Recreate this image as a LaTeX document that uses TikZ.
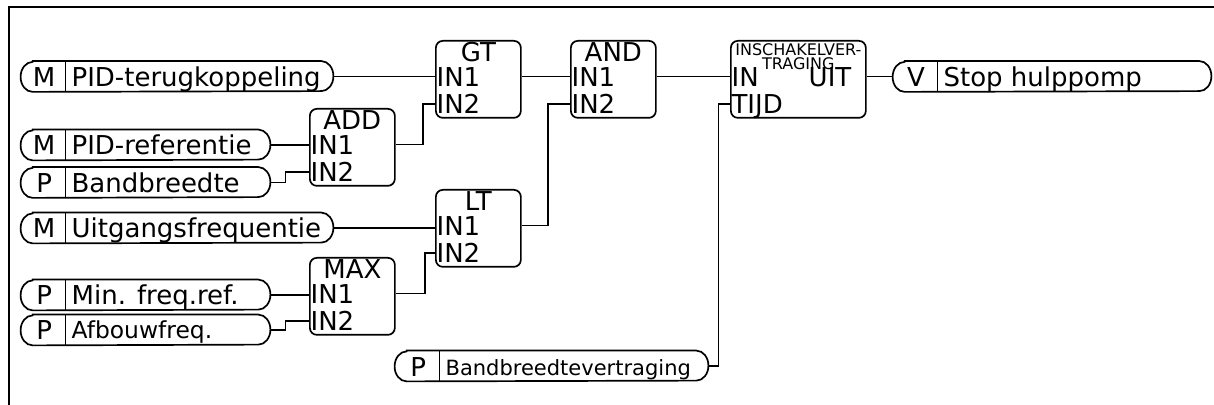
\documentclass[tikz,border=0pt]{standalone}
\usepackage{fontspec}
\setmainfont{DejaVu Sans}
\newcommand\fbig{\fontsize{13}{15}\selectfont}
\newcommand\fmid{\fontsize{11.7}{13}\selectfont}
\newcommand\fsmall{\fontsize{10.5}{12}\selectfont}
\newcommand\ftiny{\fontsize{8}{7}\selectfont}
\tikzset{
  ln/.style={line width=0.85pt},
  wire/.style={line width=0.85pt},
  fb/.style={draw, line width=0.85pt, rounded corners=3.5pt, inner sep=0pt, minimum height=38.5pt},
  pillbox/.style={inner sep=0pt, minimum height=15pt},
  txt/.style={inner sep=0pt, font=\fbig},
}
% pill: name, x1, x2, yc, letter, label, labelfont, label baseline shift
\newcommand\pill[8]{%
  \node[pillbox, minimum width={(#3-#2)*0.5pt}] (#1) at ({(#2+#3)/2},#4) {};
  \draw[ln] ([xshift=6pt]#1.north west) -- ([xshift=-6pt]#1.north east)
     arc[start angle=90,end angle=-90,x radius=6pt,y radius=7.5pt]
     -- ([xshift=6pt]#1.south west)
     arc[start angle=270,end angle=90,x radius=6pt,y radius=7.5pt] -- cycle;
  \draw[ln] ([xshift=22.5pt]#1.north west) -- ([xshift=22.5pt]#1.south west);
  \node[txt, anchor=base] (#1-x) at ([xshift=11.75pt,yshift=-5pt]#1.west) {#5};
  \node[txt, anchor=base west, font=#7] (#1-l) at ([xshift=25.3pt,yshift=#8]#1.west) {#6};
}
% block body: name, x1, x2, y1
\newcommand\fbody[4]{%
  \node[fb, minimum width={(#3-#2)*0.5pt}, anchor=north west] (#1) at (#2,#4) {};
  \coordinate (#1-in1) at ([yshift=-18.25pt]#1.north west);
  \coordinate (#1-in2) at ([yshift=-32pt]#1.north west);
  \coordinate (#1-out) at ([yshift=-18.25pt]#1.north east);
}
% full block: name, x1, x2, y1, title, in1, in2
\newcommand\fblock[7]{%
  \fbody{#1}{#2}{#3}{#4}
  \node[txt, anchor=base] (#1-t) at ([yshift=-11pt]#1.north) {#5};
  \node[txt, anchor=base west] (#1-a) at ([xshift=0.6pt,yshift=-23.25pt]#1.north west) {#6};
  \node[txt, anchor=base west] (#1-b) at ([xshift=0.6pt,yshift=-36.75pt]#1.north west) {#7};
}
\begin{document}
\begin{tikzpicture}[x=0.5pt,y=-0.5pt]
\useasboundingbox (0,0) rectangle (1214,405);
\draw[line width=1pt] (1214,7.5) -- (9,7.5) -- (9,405);

\pill{tk}{21}{333}{76.5}{M}{PID-terugkoppeling}{\fbig}{-5pt}
\pill{ref}{21}{270}{145}{M}{PID-referentie}{\fbig}{-5pt}
\pill{bb}{21}{270}{182.5}{P}{Bandbreedte}{\fbig}{-5pt}
\pill{uf}{21}{333}{228}{M}{Uitgangsfrequentie}{\fbig}{-5pt}
\pill{minf}{21}{270}{295}{P}{Min. freq.ref.}{\fbig}{-5pt}
\pill{afb}{21}{270}{330}{P}{Afbouwfreq.}{\fmid}{-4.2pt}
\pill{bbv}{395}{708}{366}{P}{Bandbreedtevertraging}{\fsmall}{-4.5pt}
\pill{stop}{893}{1211}{76.5}{V}{Stop hulppomp}{\fbig}{-5pt}

\fblock{addb}{309}{394}{108}{ADD}{IN1}{IN2}
\fblock{gtb}{435}{520}{40}{GT}{IN1}{IN2}
\fblock{andb}{570}{655}{40}{AND}{IN1}{IN2}
\fblock{ltb}{435}{520}{189}{LT}{IN1}{IN2}
\fblock{maxb}{309}{394}{257}{MAX}{IN1}{IN2}
\fbody{ins}{730}{865}{40}
\node[inner sep=0pt, font=\ftiny, align=center, anchor=north] (ins-t) at ([yshift=-1.5pt]ins.north) {INSCHAKELVER-\\TRAGING};
\node[txt, anchor=base west] (ins-a) at ([xshift=0.6pt,yshift=-23.25pt]ins.north west) {IN};
\node[txt, anchor=base west] (ins-b) at ([xshift=0.6pt,yshift=-36.75pt]ins.north west) {TIJD};
\node[txt, anchor=base east] (ins-u) at ([xshift=-7.5pt,yshift=-23.25pt]ins.north east) {UIT};

\draw[wire] (tk.east) -- (tk.east -| gtb.west);
\draw[wire] (ref.east) -- (ref.east -| addb.west);
\draw[wire] (bb.east) -- ++(7.5pt,0) |- (addb-in2);
\draw[wire] (addb-out) -- ++(13.5pt,0) |- (gtb-in2);
\draw[wire] (gtb-out) -- (gtb-out -| andb.west);
\draw[wire] (uf.east) -- (uf.east -| ltb.west);
\draw[wire] (maxb-out) -- ++(14.5pt,0) |- (ltb-in2);
\draw[wire] (ltb-out) -- ++(13pt,0) |- (andb-in2);
\draw[wire] (andb-out) -- (andb-out -| ins.west);
\draw[wire] (bbv.east) -- ++(5pt,0) |- (ins-in2);
\draw[wire] (ins-out) -- (ins-out -| stop.west);
\draw[wire] (minf.east) -- (minf.east -| maxb.west);
\draw[wire] (afb.east) -- ++(7.5pt,0) |- (maxb-in2);
\end{tikzpicture}
\end{document}
